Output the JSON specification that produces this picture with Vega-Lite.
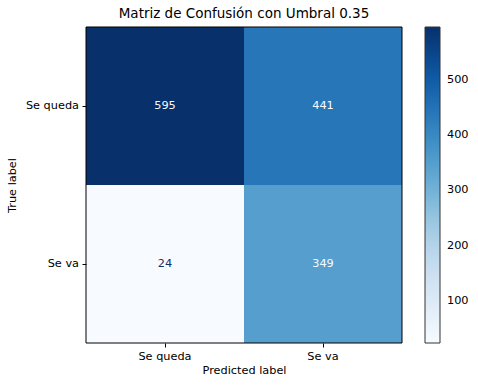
{
  "$schema": "https://vega.github.io/schema/vega-lite/v6.json",
  "autosize": "none",
  "padding": {"left": 86, "top": 27, "right": 76, "bottom": 44},
  "width": 316,
  "height": 316,
  "background": "white",
  "config": {
    "font": "DejaVu Sans",
    "view": {"stroke": null},
    "axis": {
      "labelFont": "DejaVu Sans", "labelFontSize": 11.3, "labelColor": "black",
      "titleFont": "DejaVu Sans", "titleFontSize": 11.3, "titleFontWeight": "normal", "titleColor": "black",
      "tickColor": "black", "tickSize": 4, "labelPadding": 3.5, "domain": false, "grid": false
    }
  },
  "title": {"text": "Matriz de Confusión con Umbral 0.35", "font": "DejaVu Sans", "fontSize": 13.5, "fontWeight": "normal", "color": "black", "offset": 6, "anchor": "middle"},
  "data": {"values": [
    {"true": "Se queda", "pred": "Se queda", "count": 595},
    {"true": "Se queda", "pred": "Se va", "count": 441},
    {"true": "Se va", "pred": "Se queda", "count": 24},
    {"true": "Se va", "pred": "Se va", "count": 349}
  ]},
  "layer": [
    {
      "mark": {"type": "rect"},
      "encoding": {
        "x": {"field": "pred", "type": "nominal", "sort": ["Se queda", "Se va"], "scale": {"paddingInner": 0, "paddingOuter": 0},
          "axis": {"title": "Predicted label", "labelAngle": 0, "titlePadding": 3}},
        "y": {"field": "true", "type": "nominal", "sort": ["Se queda", "Se va"], "scale": {"paddingInner": 0, "paddingOuter": 0},
          "axis": {"title": "True label", "titlePadding": 8}},
        "color": {"field": "count", "type": "quantitative",
          "scale": {"type": "linear",
            "domain": [24, 95.375, 166.75, 238.125, 309.5, 380.875, 452.25, 523.625, 595],
            "range": ["#f7fbff", "#deebf7", "#c6dbef", "#9ecae1", "#6baed6", "#4292c6", "#2171b5", "#08519c", "#08306b"]},
          "legend": {"title": null, "orient": "right", "offset": 23, "gradientLength": 316, "gradientThickness": 15,
            "gradientStrokeColor": "#333333", "gradientStrokeWidth": 1, "values": [100, 200, 300, 400, 500],
            "labelFont": "DejaVu Sans", "labelFontSize": 11.3, "labelColor": "black", "labelOffset": 7,
            "labelOverlap": false, "padding": 0}}
      }
    },
    {
      "mark": {"type": "text", "font": "DejaVu Sans", "fontSize": 11.3},
      "encoding": {
        "x": {"field": "pred", "type": "nominal", "sort": ["Se queda", "Se va"]},
        "y": {"field": "true", "type": "nominal", "sort": ["Se queda", "Se va"]},
        "text": {"field": "count", "type": "quantitative"},
        "color": {"condition": {"test": "datum.count > 309.5", "value": "#f7fbff"}, "value": "#08306b"}
      }
    },
    {
      "data": {"values": [{"frame": "border"}]},
      "mark": {"type": "rect", "filled": false, "stroke": "black", "strokeWidth": 1},
      "encoding": {}
    }
  ]
}
